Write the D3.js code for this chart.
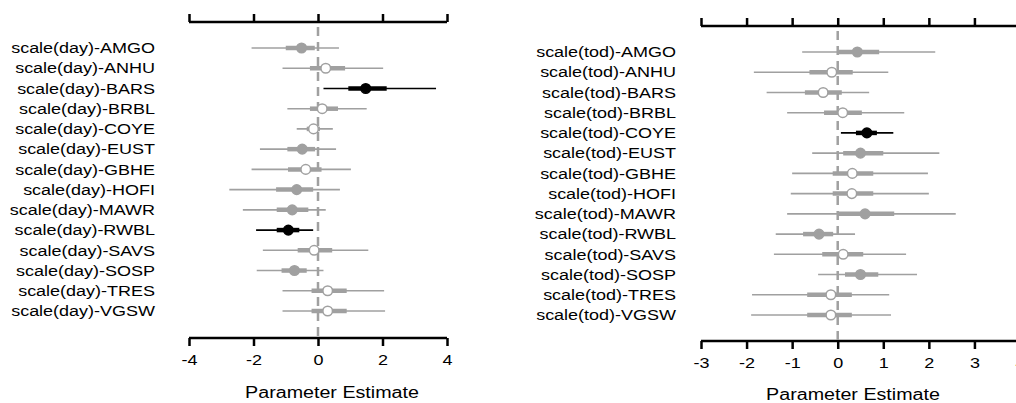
<!DOCTYPE html>
<html>
<head>
<meta charset="utf-8">
<script src="https://cdn.jsdelivr.net/npm/d3@7"></script>
<style>
  body { margin: 0; background: #fff; }
  text { font-family: "Liberation Sans", Arial, sans-serif; fill: #000; }
</style>
</head>
<body>
<svg id="chart" width="1016" height="403"></svg>
<script>
//species codes (same for both panels)
let species = ["AMGO", "ANHU", "BARS", "BRBL", "COYE", "EUST", "GBHE", "HOFI", "MAWR", "RWBL", "SAVS", "SOSP", "TRES", "VGSW"];

//day panel: estimate, inner interval, outer interval, style (0 open, 1 gray filled, 2 black)
let dayEst    = [-0.51, 0.24, 1.48, 0.13, -0.14, -0.49, -0.38, -0.66, -0.80, -0.92, -0.12, -0.73, 0.30, 0.30];
let dayInLo   = [-1.00, -0.25, 0.94, -0.25, -0.35, -0.95, -0.93, -1.30, -1.28, -1.28, -0.63, -1.13, -0.20, -0.20];
let dayInHi   = [-0.10, 0.84, 2.13, 0.62, 0.06, -0.09, 0.11, -0.15, -0.30, -0.58, 0.44, -0.35, 0.89, 0.89];
let dayOutLo  = [-2.06, -1.10, 0.17, -0.95, -0.66, -1.80, -2.06, -2.75, -2.33, -1.92, -1.71, -1.90, -1.10, -1.10];
let dayOutHi  = [0.65, 2.02, 3.66, 1.51, 0.46, 0.56, 1.02, 0.68, 0.24, -0.15, 1.56, 0.17, 2.05, 2.08];
let dayStyle  = [1, 0, 2, 0, 0, 1, 0, 1, 1, 2, 0, 1, 0, 0];

//tod panel
let todEst    = [0.43, -0.13, -0.32, 0.11, 0.64, 0.50, 0.32, 0.31, 0.60, -0.41, 0.12, 0.50, -0.15, -0.15];
let todInLo   = [0.01, -0.62, -0.72, -0.30, 0.40, 0.12, -0.11, -0.11, 0.01, -0.76, -0.34, 0.16, -0.67, -0.67];
let todInHi   = [0.91, 0.33, 0.09, 0.53, 0.86, 1.00, 0.78, 0.78, 1.24, -0.10, 0.56, 0.89, 0.31, 0.31];
let todOutLo  = [-0.78, -1.84, -1.56, -1.11, 0.07, -0.56, -1.00, -1.03, -1.11, -1.36, -1.40, -0.43, -1.88, -1.90];
let todOutHi  = [2.14, 1.11, 0.69, 1.46, 1.22, 2.23, 1.98, 2.00, 2.59, 0.38, 1.50, 1.74, 1.13, 1.17];
let todStyle  = [1, 0, 0, 0, 2, 1, 0, 0, 1, 1, 0, 1, 0, 0];

let dayTicks = [-4, -2, 0, 2, 4];
let todTicks = [-3, -2, -1, 0, 1, 2, 3, 4];

let GRAY = "#a0a0a0";
//the source image is stretched a bit horizontally, so text gets widened too
let SX = 1.2;

let svg = d3.select("#chart");

function makeRows(prefix, est, inLo, inHi, outLo, outHi, style) {
    return species.map(function(s, i) {
        return {label: prefix + s, est: est[i], inLo: inLo[i], inHi: inHi[i],
                outLo: outLo[i], outHi: outHi[i], style: style[i]};
    });
}

function drawPanel(opt) {
    let g = svg.append("g");

    let x = d3.scaleLinear().domain(opt.domain).range(opt.xRange);
    let y = d3.scalePoint().domain(opt.rows.map(d => d.label)).range(opt.yRange);

    //top axis
    let top = g.append("g")
        .attr("transform", `translate(0,${opt.topY})`)
        .call(d3.axisTop(x).tickValues(opt.ticks).tickSize(8).tickFormat(""));
    //bottom axis
    let bot = g.append("g")
        .attr("transform", `translate(0,${opt.botY})`)
        .call(d3.axisBottom(x).tickValues(opt.ticks).tickSize(8).tickPadding(8)
              .tickFormat(d => String(d)));
    [top, bot].forEach(function(a) {
        a.select(".domain").attr("stroke", "#000").attr("stroke-width", 2.5)
            .attr("d", `M${opt.xRange[0]},0H${opt.xRange[1]}`);
        a.selectAll(".tick line").attr("stroke", "#000").attr("stroke-width", 2.5);
    });
    bot.selectAll(".tick text")
        .attr("transform", `scale(${SX},1)`)
        .style("font-size", "15px")
        .style("font-family", "Liberation Sans, Arial, sans-serif");

    //zero line
    g.append("line")
        .attr("x1", x(0)).attr("x2", x(0))
        .attr("y1", opt.topY + 5).attr("y2", opt.botY)
        .attr("stroke", GRAY).attr("stroke-width", 2.5)
        .attr("stroke-dasharray", "9,6");

    //row labels
    g.append("g").selectAll("text").data(opt.rows).enter()
        .append("text")
        .attr("transform", d => `translate(${opt.labelX},${y(d.label)}) scale(${SX},1)`)
        .attr("dy", "0.35em")
        .style("text-anchor", "end")
        .style("font-size", "15px")
        .text(d => d.label);

    let col = d => d.style == 2 ? "#000" : GRAY;

    //outer intervals
    g.append("g").selectAll("line").data(opt.rows).enter()
        .append("line")
        .attr("x1", d => x(d.outLo)).attr("x2", d => x(d.outHi))
        .attr("y1", d => y(d.label)).attr("y2", d => y(d.label))
        .attr("stroke", col).attr("stroke-width", 1.6);

    //inner intervals
    g.append("g").selectAll("line").data(opt.rows).enter()
        .append("line")
        .attr("x1", d => x(d.inLo)).attr("x2", d => x(d.inHi))
        .attr("y1", d => y(d.label)).attr("y2", d => y(d.label))
        .attr("stroke", col).attr("stroke-width", 4.5);

    //points
    g.append("g").selectAll("circle").data(opt.rows).enter()
        .append("circle")
        .attr("cx", d => x(d.est))
        .attr("cy", d => y(d.label))
        .attr("r", 4.8)
        .attr("fill", d => d.style == 0 ? "#fff" : col(d))
        .attr("stroke", col)
        .attr("stroke-width", 1.5);

    //x label
    g.append("text")
        .attr("transform", `translate(${opt.titleX},${opt.titleY}) scale(1.23,1)`)
        .style("text-anchor", "middle")
        .style("font-size", "16px")
        .text("Parameter Estimate");
}

drawPanel({
    rows: makeRows("scale(day)-", dayEst, dayInLo, dayInHi, dayOutLo, dayOutHi, dayStyle),
    domain: [-4, 4], xRange: [189, 447], ticks: dayTicks,
    yRange: [48, 311], topY: 22, botY: 338, labelX: 155,
    titleX: 332, titleY: 398
});

drawPanel({
    rows: makeRows("scale(tod)-", todEst, todInLo, todInHi, todOutLo, todOutHi, todStyle),
    domain: [-3, 4], xRange: [701, 1020], ticks: todTicks,
    yRange: [52, 315], topY: 26, botY: 341, labelX: 676,
    titleX: 853, titleY: 400
});
</script>
</body>
</html>
